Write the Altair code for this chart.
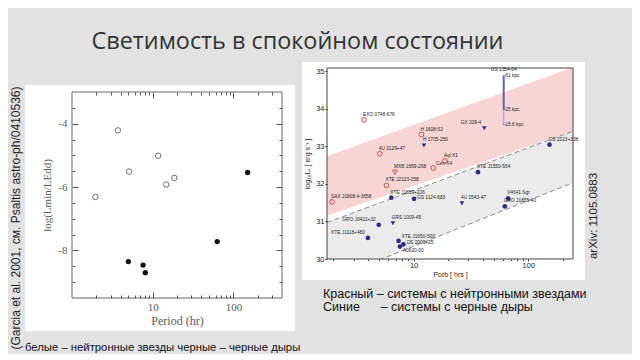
import altair as alt
import pandas as pd

# ---------------- data ----------------
# Left panel (Garcia et al. 2001): log(Lmin/LEdd) vs orbital period
left_ns_period = [1.95, 3.7, 5.1, 11.7, 14.7, 18.5]
left_ns_lmin = [-6.31, -4.21, -5.51, -5.01, -5.92, -5.71]
left_bh_period = [150, 63, 5.0, 7.6, 8.1]
left_bh_lmin = [-5.54, -7.72, -8.35, -8.46, -8.70]

left_x_major = [10, 100]
left_x_minor = [2, 3, 4, 5, 6, 7, 8, 9, 20, 30, 40, 50, 60, 70, 80, 90, 200, 300]
left_y_major = [-4, -6, -8]
left_y_minor = [-3.5, -4.5, -5, -5.5, -6.5, -7, -7.5, -8.5, -9]

# Right panel (arXiv:1105.0883): log10 Lx vs orbital period
ns_names = ["EXO 0748-676", "H 1608-52", "4U 2129+47", "Aql X1", "Cen X4",
            "XTE J2123-058", "SAX J1808.4-3658", "MXB 1659-298"]
ns_period = [3.7, 11.7, 5.07, 18.7, 14.8, 5.8, 1.95, 6.9]
ns_lum = [33.70, 33.31, 32.80, 32.61, 32.42, 31.96, 31.52, 32.31]
ns_marker = ["circle"] * 7 + ["triangle-down"]
ns_labelpos = ["above", "above", "above", "above", "right", "above", "above", "above"]

bh_names = ["H 1705-250", "GX 339-4", "GRS 1009-45", "4U 1543-47", "XTE J1859+226",
            "GS 1124-683", "XTE J1550-564", "GS 2023+338", "V4641 Sgr", "GRO J1655-40",
            "GRO J0422+32", "XTE J1118+480", "XTE J1650-500", "GS 2000+25", "A0620-00"]
bh_period = [12.3, 41.3, 6.6, 26.4, 6.4, 10.1, 36.4, 153, 66.7, 62.4, 4.97, 4.0, 7.4, 8.15, 7.6]
bh_lum = [33.02, 33.48, 30.95, 31.48, 31.63, 31.60, 32.31, 33.04, 31.61, 31.40,
          30.91, 30.56, 30.48, 30.39, 30.33]
bh_marker = ["triangle-down"] * 4 + ["circle"] * 11
bh_labelpos = ["above", "left", "above", "above", "above", "right0", "above", "above",
               "above", "above", "left", "left", "right", "right0", "below"]

gs1354_period = [61, 61, 61]
gs1354_lum = [34.87, 33.97, 33.57]
gs1354_dist = ["–61 kpc", "–25 kpc", "–15.6 kpc"]

band_period = [1.76, 245]
ns_band_low = [31.15, 33.40]
ns_band_high = [32.73, 35.10]
bh_band_low = [29.42, 32.03]
bh_band_high = [30.97, 33.40]

right_x_major = [10, 100]
right_x_minor = [2, 3, 4, 5, 6, 7, 8, 9, 20, 30, 40, 50, 60, 70, 80, 90, 200]
right_y_major = [30, 31, 32, 33, 34, 35]

# ---------------- styling ----------------
BG = "#e2e2e2"
SERIF = "Liberation Serif"
SANS = "Liberation Sans"
one = pd.DataFrame({"k": [0]})


def deco_rect(x1, x2, y1, y2, **style):
    return alt.Chart(one).mark_rect(**style).encode(
        x=alt.value(x1), x2=alt.value(x2), y=alt.value(y1), y2=alt.value(y2))


def deco_text(text, x, y, **style):
    return alt.Chart(one).mark_text(text=text, **style).encode(x=alt.value(x), y=alt.value(y))


def in_axis(orient, values, size, shift=0, **kw):
    return alt.Axis(orient=orient, values=values, tickSize=size, offset=-(size + shift),
                    domain=False, grid=False, tickColor="#555555", tickWidth=1, zindex=1, **kw)


# ---------------- left panel ----------------
# group is taller than the frame so that both panels share the same top origin
W1, H1, TOP1 = 210, 230, 24
lx = alt.Scale(type="log", domain=[1, 400])
ly = alt.Scale(domain=[-9.5, -3], range=[H1, TOP1])
lns = pd.DataFrame({"P": left_ns_period, "L": left_ns_lmin})
lbh = pd.DataFrame({"P": left_bh_period, "L": left_bh_lmin})
gtxt = "#5a5a5a"

l_ns_pts = alt.Chart(lns).mark_point(shape="circle", filled=False, color="#6e6e6e",
                                     strokeWidth=1, size=30, opacity=1).encode(
    x=alt.X("P:Q", scale=lx, title="Period (hr)",
            axis=in_axis("bottom", left_x_major, 6, labels=True, format="d",
                         labelFont=SERIF, labelFontSize=11, labelColor=gtxt, labelPadding=3,
                         titleFont=SERIF, titleFontSize=12, titleFontWeight="normal",
                         titleColor=gtxt, titlePadding=3)),
    y=alt.Y("L:Q", scale=ly, title="log(Lmin/LEdd)",
            axis=in_axis("left", left_y_major, 6, labels=True, labelExpr="'' + datum.value",
                         labelFont=SERIF, labelFontSize=11, labelColor=gtxt, labelPadding=5,
                         titleFont=SERIF, titleFontSize=11, titleFontWeight="normal",
                         titleColor=gtxt, titlePadding=5)))
l_bh_pts = alt.Chart(lbh).mark_point(shape="circle", filled=True, color="#111111",
                                     size=28, opacity=1).encode(
    x=alt.X("P:Q", scale=lx, axis=None), y=alt.Y("L:Q", scale=ly, axis=None))


def ghost(orient_x, xvals, xsize, xshift, orient_y, yvals, ysize):
    return alt.Chart(lns).mark_point(opacity=0).encode(
        x=alt.X("P:Q", scale=lx, title=None,
                axis=in_axis(orient_x, xvals, xsize, shift=xshift, labels=False)),
        y=alt.Y("L:Q", scale=ly, title=None, axis=in_axis(orient_y, yvals, ysize, labels=False)))


left = alt.layer(
    deco_rect(-64, 230, -6, 284, color=BG),
    deco_rect(-47, 223, 17, 263, color="white"),
    ghost("bottom", left_x_minor, 3, 0, "left", left_y_minor, 3),
    ghost("top", left_x_major, 6, TOP1, "right", left_y_major, 6),
    ghost("top", left_x_minor, 3, TOP1, "right", left_y_minor, 3),
    l_ns_pts,
    l_bh_pts,
    deco_rect(0, W1, TOP1, H1, fillOpacity=0, stroke="#666666", strokeWidth=1),
    deco_text("(Garcia et al. 2001, см. Psaltis astro-ph/0410536)", -56.5, 150, angle=270,
              align="center", baseline="middle", font=SANS, fontSize=12, color="#222222"),
    deco_text("белые – нейтронные звезды черные – черные дыры", -47, 283, align="left",
              baseline="alphabetic", font=SANS, fontSize=11.3, color="#111111"),
).resolve_axis(x="independent", y="independent").properties(width=W1, height=H1)

# ---------------- right panel ----------------
W2, H2 = 246, 191
rx = alt.Scale(type="log", domain=[1.76, 245])
ry = alt.Scale(domain=[30, 35.08])
shape_scale = alt.Scale(domain=["circle", "triangle-down"], range=["circle", "triangle-down"])

bands = pd.DataFrame({"P": band_period, "nl": ns_band_low, "nh": ns_band_high,
                      "bl": bh_band_low, "bh": bh_band_high})
ns_df = pd.DataFrame({"name": ns_names, "P": ns_period, "L": ns_lum,
                      "marker": ns_marker, "pos": ns_labelpos})
bh_df = pd.DataFrame({"name": bh_names, "P": bh_period, "L": bh_lum,
                      "marker": bh_marker, "pos": bh_labelpos})
lab_df = pd.concat([ns_df, bh_df], ignore_index=True)
gs_df = pd.DataFrame({"P": gs1354_period, "L": gs1354_lum, "dist": gs1354_dist})
gs_line = pd.DataFrame({"P": gs1354_period[:1], "top": gs1354_lum[:1], "mid": gs1354_lum[1:2],
                        "bot": gs1354_lum[2:3], "name": ["GS 1354-64"]})

XN = dict(scale=rx, axis=None)
YN = dict(scale=ry, axis=None)
LABEL_FS = 4.8

pink = alt.Chart(bands).mark_area(color="#f8d5d5", clip=True).encode(
    x=alt.X("P:Q", **XN), y=alt.Y("nl:Q", **YN), y2="nh:Q")
grayb = alt.Chart(bands).mark_area(color="#ebebeb", clip=True).encode(
    x=alt.X("P:Q", **XN), y=alt.Y("bl:Q", **YN), y2="bh:Q")
dash_hi = alt.Chart(bands).mark_line(color="#8c8c8c", strokeDash=[5, 3], strokeWidth=1,
                                     clip=True).encode(x=alt.X("P:Q", **XN), y=alt.Y("bh:Q", **YN))
dash_lo = alt.Chart(bands).mark_line(color="#8c8c8c", strokeDash=[5, 3], strokeWidth=1,
                                     clip=True).encode(x=alt.X("P:Q", **XN), y=alt.Y("bl:Q", **YN))

gs_rule1 = alt.Chart(gs_line).mark_rule(color="#6464b4", strokeWidth=2).encode(
    x=alt.X("P:Q", **XN), y=alt.Y("mid:Q", **YN), y2="top:Q")
gs_rule2 = alt.Chart(gs_line).mark_rule(color="#9a9ad2", strokeWidth=1).encode(
    x=alt.X("P:Q", **XN), y=alt.Y("bot:Q", **YN), y2="mid:Q")
gs_name = alt.Chart(gs_line).mark_text(fontSize=LABEL_FS, font=SANS, color="#222222", dy=-6,
                                       align="center").encode(
    x=alt.X("P:Q", **XN), y=alt.Y("top:Q", **YN), text="name:N")
gs_dist = alt.Chart(gs_df).mark_text(fontSize=LABEL_FS, font=SANS, color="#222222", dx=-1,
                                     align="left", baseline="middle").encode(
    x=alt.X("P:Q", **XN), y=alt.Y("L:Q", **YN), text="dist:N")

r_ns_pts = alt.Chart(ns_df).mark_point(filled=False, color="#c0504d", strokeWidth=1,
                                       size=22, opacity=1).encode(
    x=alt.X("P:Q", scale=rx, title="Porb [ hrs ]",
            axis=alt.Axis(orient="bottom", values=right_x_major, format="d", tickSize=2,
                          domain=False, grid=False, tickColor="#333333", zindex=1,
                          labelFont=SANS, labelFontSize=7.5, labelColor="#222222",
                          labelPadding=0, titleFont=SANS, titleFontSize=7,
                          titleFontWeight="normal", titleColor="#222222", titlePadding=2)),
    y=alt.Y("L:Q", scale=ry, title="log₁₀Lₓ [ erg s⁻¹ ]",
            axis=alt.Axis(orient="left", values=right_y_major, format="d", tickSize=2,
                          domain=False, grid=False, tickColor="#333333", zindex=1,
                          labelFont=SANS, labelFontSize=7.5, labelColor="#222222",
                          labelPadding=1, titleFont=SANS, titleFontSize=7,
                          titleFontWeight="normal", titleColor="#222222", titlePadding=5)),
    shape=alt.Shape("marker:N", scale=shape_scale, legend=None))
r_bh_pts = alt.Chart(bh_df).mark_point(filled=True, color="#2d2d8f", size=22, opacity=1).encode(
    x=alt.X("P:Q", **XN), y=alt.Y("L:Q", **YN),
    shape=alt.Shape("marker:N", scale=shape_scale, legend=None))
r_minor = alt.Chart(ns_df).mark_point(opacity=0).encode(
    x=alt.X("P:Q", scale=rx, title=None,
            axis=alt.Axis(orient="bottom", values=right_x_minor, tickSize=1.5, labels=False,
                          domain=False, grid=False, tickColor="#333333", zindex=1)),
    y=alt.Y("L:Q", **YN))

pos_style = {
    "above": dict(align="left", dx=-1, dy=-5),
    "left": dict(align="right", dx=-3, dy=-5),
    "right": dict(align="left", dx=3, dy=-4),
    "right0": dict(align="left", dx=3, dy=-1),
    "below": dict(align="left", dx=3, dy=4),
}
label_layers = [
    alt.Chart(lab_df).transform_filter(alt.datum.pos == pos).mark_text(
        fontSize=LABEL_FS, font=SANS, color="#222222", baseline="middle", **st).encode(
        x=alt.X("P:Q", **XN), y=alt.Y("L:Q", **YN), text="name:N")
    for pos, st in pos_style.items()
]

right = alt.layer(
    deco_rect(-25, 305, -6, 284, color=BG),
    deco_rect(-25, 258, -6, 212, color="white"),
    pink, grayb, dash_hi, dash_lo,
    gs_rule1, gs_rule2, gs_name, gs_dist,
    r_minor, r_ns_pts, r_bh_pts,
    *label_layers,
    deco_rect(0, W2, 0, H2, fillOpacity=0, stroke="#444444", strokeWidth=1),
    deco_text("arXiv: 1105.0883", 267, 148, angle=270, align="center", baseline="middle",
              font=SANS, fontSize=11.5, color="#222222"),
    deco_text("Красный – системы с нейтронными звездами", -4, 226, align="left",
              baseline="middle", font=SANS, fontSize=12.5, color="#111111"),
    deco_text("Синие" + "\u00a0" * 6 + "– системы с черные дыры", -4, 239, align="left",
              baseline="middle", font=SANS, fontSize=12.5, color="#111111"),
).resolve_axis(x="independent", y="independent").properties(width=W2, height=H2)

chart = alt.hconcat(left, right, spacing=0).properties(
    title=alt.TitleParams("Светимость в спокойном состоянии", anchor="start", dx=83.5,
                          offset=8, fontSize=23.4, font="Open Sans", fontWeight="normal",
                          color="#333333"),
    padding={"left": 0, "top": 21, "right": 0, "bottom": 0},
    background=BG,
).configure_view(stroke=None)

chart.save("out.html", embed_options={"renderer": "svg", "actions": False})
